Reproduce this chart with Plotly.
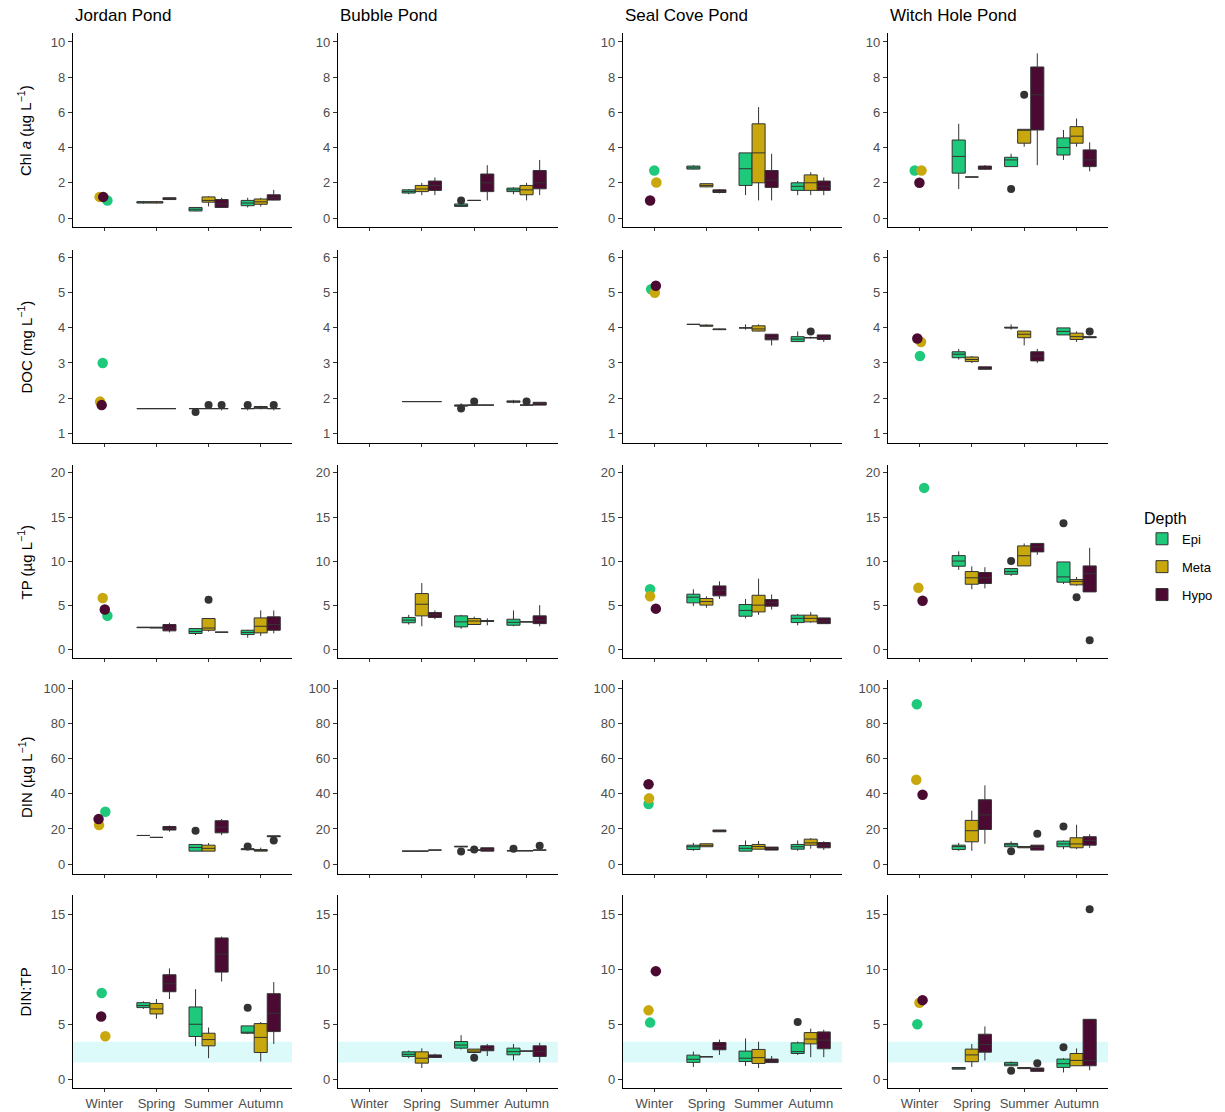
import plotly.graph_objects as go

# ---------------- data ----------------
PONDS = ["Jordan Pond", "Bubble Pond", "Seal Cove Pond", "Witch Hole Pond"]
SEASONS = ["Winter", "Spring", "Summer", "Autumn"]
BOX_SEASONS = ["Spring", "Summer", "Autumn"]
DEPTHS = ["Epi", "Meta", "Hypo"]

# box stats per season (Spring, Summer, Autumn): (lower whisker, q1, median, q3, upper whisker)
CHLA_BOX = {
    "Jordan Pond": {
        "Epi":  [(0.82, 0.85, 0.9, 0.93, 0.97), (0.38, 0.4, 0.5, 0.6, 0.62), (0.6, 0.7, 0.85, 1.0, 1.15)],
        "Meta": [(0.82, 0.85, 0.9, 0.93, 0.97), (0.66, 0.9, 1.0, 1.2, 1.23), (0.65, 0.78, 0.92, 1.08, 1.15)],
        "Hypo": [(1.02, 1.05, 1.1, 1.15, 1.18), (0.58, 0.6, 0.8, 1.05, 1.15), (1.0, 1.02, 1.15, 1.32, 1.6)],
    },
    "Bubble Pond": {
        "Epi":  [(1.35, 1.42, 1.5, 1.6, 1.65), (0.66, 0.66, 0.7, 0.8, 0.8), (1.35, 1.5, 1.6, 1.7, 1.75)],
        "Meta": [(1.3, 1.5, 1.65, 1.85, 2.0), (1.0, 1.0, 1.0, 1.0, 1.0), (1.0, 1.32, 1.6, 1.85, 2.0)],
        "Hypo": [(1.3, 1.57, 1.85, 2.1, 2.3), (1.0, 1.5, 2.0, 2.5, 3.0), (1.3, 1.66, 2.0, 2.7, 3.3)],
    },
    "Seal Cove Pond": {
        "Epi":  [(2.75, 2.78, 2.85, 2.95, 3.0), (1.3, 1.85, 2.8, 3.7, 3.7), (1.3, 1.57, 1.8, 2.0, 2.1)],
        "Meta": [(1.75, 1.77, 1.85, 1.95, 1.98), (1.0, 2.0, 3.7, 5.35, 6.3), (1.3, 1.57, 2.0, 2.45, 2.6)],
        "Hypo": [(1.4, 1.45, 1.5, 1.6, 1.64), (1.0, 1.74, 2.15, 2.7, 3.65), (1.3, 1.57, 1.8, 2.1, 2.3)],
    },
    "Witch Hole Pond": {
        "Epi":  [(1.65, 2.55, 3.5, 4.43, 5.35), (2.92, 2.92, 3.3, 3.45, 3.65), (3.3, 3.58, 4.0, 4.55, 5.0)],
        "Meta": [(2.33, 2.33, 2.33, 2.33, 2.33), (4.05, 4.25, 5.0, 5.04, 5.04), (4.05, 4.25, 4.65, 5.19, 5.65)],
        "Hypo": [(2.75, 2.77, 2.85, 2.95, 3.0), (3.0, 5.0, 7.0, 8.58, 9.35), (2.65, 2.92, 3.3, 3.87, 4.3)],
    },
}
CHLA_WINTER = {"Jordan Pond": [1.0, 1.2, 1.2], "Seal Cove Pond": [2.7, 2.02, 1.0],
               "Witch Hole Pond": [2.7, 2.7, 2.0]}
CHLA_OUT = {"Bubble Pond": [("Summer", "Epi", 1.0)],
            "Witch Hole Pond": [("Summer", "Epi", 1.65), ("Summer", "Meta", 7.0)]}

DOC_BOX = {
    "Jordan Pond": {
        "Epi":  [(1.7, 1.7, 1.7, 1.7, 1.7), (1.7, 1.7, 1.7, 1.7, 1.7), (1.65, 1.7, 1.7, 1.7, 1.7)],
        "Meta": [(1.7, 1.7, 1.7, 1.7, 1.7), (1.7, 1.7, 1.7, 1.7, 1.7), (1.68, 1.7, 1.73, 1.76, 1.78)],
        "Hypo": [(1.7, 1.7, 1.7, 1.7, 1.7), (1.65, 1.7, 1.7, 1.7, 1.7), (1.65, 1.7, 1.7, 1.7, 1.7)],
    },
    "Bubble Pond": {
        "Epi":  [(1.9, 1.9, 1.9, 1.9, 1.9), (1.75, 1.77, 1.8, 1.8, 1.85), (1.85, 1.88, 1.9, 1.92, 1.95)],
        "Meta": [(1.9, 1.9, 1.9, 1.9, 1.9), (1.8, 1.8, 1.8, 1.8, 1.8), (1.8, 1.8, 1.8, 1.8, 1.8)],
        "Hypo": [(1.9, 1.9, 1.9, 1.9, 1.9), (1.8, 1.8, 1.8, 1.8, 1.8), (1.8, 1.8, 1.85, 1.88, 1.88)],
    },
    "Seal Cove Pond": {
        "Epi":  [(4.1, 4.1, 4.1, 4.1, 4.1), (3.95, 4.0, 4.0, 4.0, 4.1), (3.6, 3.61, 3.68, 3.75, 3.9)],
        "Meta": [(4.05, 4.05, 4.06, 4.08, 4.1), (3.9, 3.91, 3.97, 4.06, 4.1), (3.7, 3.72, 3.72, 3.72, 3.75)],
        "Hypo": [(3.95, 3.95, 3.96, 3.97, 3.98), (3.5, 3.66, 3.72, 3.82, 3.82), (3.6, 3.67, 3.72, 3.8, 3.8)],
    },
    "Witch Hole Pond": {
        "Epi":  [(3.1, 3.15, 3.25, 3.32, 3.4), (3.95, 4.0, 4.0, 4.02, 4.1), (3.8, 3.8, 3.9, 4.0, 4.0)],
        "Meta": [(3.0, 3.04, 3.1, 3.17, 3.2), (3.5, 3.72, 3.82, 3.91, 3.91), (3.6, 3.67, 3.75, 3.85, 3.9)],
        "Hypo": [(2.82, 2.82, 2.85, 2.89, 2.89), (3.0, 3.06, 3.2, 3.32, 3.4), (3.72, 3.72, 3.73, 3.75, 3.75)],
    },
}
DOC_WINTER = {"Jordan Pond": [3.0, 1.9, 1.8], "Seal Cove Pond": [5.1, 5.0, 5.2],
              "Witch Hole Pond": [3.2, 3.6, 3.7]}
DOC_OUT = {"Jordan Pond": [("Summer", "Epi", 1.6), ("Summer", "Meta", 1.8), ("Summer", "Hypo", 1.8),
                           ("Autumn", "Epi", 1.8), ("Autumn", "Hypo", 1.8)],
           "Bubble Pond": [("Summer", "Epi", 1.7), ("Summer", "Meta", 1.9), ("Autumn", "Meta", 1.9)],
           "Seal Cove Pond": [("Autumn", "Meta", 3.9)],
           "Witch Hole Pond": [("Autumn", "Hypo", 3.9)]}

TP_BOX = {
    "Jordan Pond": {
        "Epi":  [(2.45, 2.45, 2.45, 2.5, 2.5), (1.6, 1.78, 2.0, 2.34, 2.4), (1.3, 1.66, 1.9, 2.15, 2.2)],
        "Meta": [(2.4, 2.4, 2.45, 2.5, 2.5), (2.0, 2.15, 2.4, 3.48, 3.5), (1.5, 1.85, 2.6, 3.55, 4.4)],
        "Hypo": [(1.9, 2.08, 2.4, 2.8, 3.0), (1.93, 1.93, 1.93, 1.93, 1.93), (1.8, 2.15, 2.8, 3.67, 4.4)],
    },
    "Bubble Pond": {
        "Epi":  [(2.8, 3.0, 3.3, 3.6, 3.9), (2.3, 2.53, 3.1, 3.78, 3.9), (2.6, 2.72, 3.05, 3.4, 4.4)],
        "Meta": [(2.6, 3.78, 5.1, 6.31, 7.5), (2.8, 2.8, 3.2, 3.48, 3.7), (3.1, 3.1, 3.1, 3.1, 3.1)],
        "Hypo": [(3.4, 3.6, 3.9, 4.16, 4.4), (2.7, 3.15, 3.2, 3.25, 3.5), (2.6, 2.9, 3.3, 3.78, 5.0)],
    },
    "Seal Cove Pond": {
        "Epi":  [(4.9, 5.26, 5.9, 6.24, 6.8), (3.5, 3.74, 4.4, 5.07, 5.7), (2.7, 3.02, 3.5, 3.86, 4.0)],
        "Meta": [(4.7, 5.0, 5.4, 5.75, 6.0), (3.9, 4.23, 5.0, 6.12, 8.0), (3.0, 3.1, 3.5, 3.86, 4.2)],
        "Hypo": [(5.7, 6.05, 6.7, 7.18, 7.7), (4.5, 4.88, 5.3, 5.63, 6.2), (2.9, 2.9, 3.2, 3.55, 3.55)],
    },
    "Witch Hole Pond": {
        "Epi":  [(9.0, 9.41, 10.0, 10.62, 11.1), (8.3, 8.5, 8.8, 9.15, 9.2), (7.4, 7.6, 8.2, 9.9, 9.9)],
        "Meta": [(6.8, 7.37, 8.1, 8.81, 9.4), (9.45, 9.45, 10.6, 11.72, 12.0), (7.2, 7.3, 7.7, 7.9, 8.2)],
        "Hypo": [(6.9, 7.45, 8.1, 8.7, 9.3), (10.7, 11.04, 11.6, 12.0, 12.0), (6.5, 6.5, 8.6, 9.45, 11.5)],
    },
}
TP_WINTER = {"Jordan Pond": [3.8, 5.8, 4.5], "Seal Cove Pond": [6.8, 6.0, 4.6],
             "Witch Hole Pond": [18.3, 6.96, 5.5]}
TP_OUT = {"Jordan Pond": [("Summer", "Meta", 5.6)],
          "Witch Hole Pond": [("Summer", "Epi", 10.0), ("Autumn", "Epi", 14.3),
                              ("Autumn", "Meta", 5.9), ("Autumn", "Hypo", 1.0)]}

DIN_BOX = {
    "Jordan Pond": {
        "Epi":  [(16.3, 16.3, 16.3, 16.3, 16.3), (7.4, 7.4, 9.5, 11.2, 11.2), (8.0, 8.2, 8.5, 8.8, 9.0)],
        "Meta": [(15.2, 15.2, 15.2, 15.2, 15.2), (7.4, 7.4, 9.0, 10.8, 12.0), (7.4, 7.4, 7.8, 8.3, 9.4)],
        "Hypo": [(18.5, 19.4, 20.3, 21.4, 22.0), (16.5, 17.8, 21.0, 24.7, 25.6), (15.0, 15.6, 15.8, 16.1, 16.1)],
    },
    "Bubble Pond": {
        "Epi":  [(7.4, 7.4, 7.4, 7.4, 7.4), (9.9, 9.9, 9.9, 10.2, 10.2), (7.6, 7.6, 7.6, 7.6, 7.6)],
        "Meta": [(7.4, 7.4, 7.4, 7.4, 7.4), (8.0, 8.0, 8.0, 8.0, 8.0), (7.6, 7.6, 7.6, 7.6, 7.6)],
        "Hypo": [(8.0, 8.0, 8.0, 8.0, 8.0), (7.4, 7.4, 8.2, 9.3, 9.3), (8.0, 8.0, 8.0, 8.0, 8.0)],
    },
    "Seal Cove Pond": {
        "Epi":  [(7.6, 8.3, 9.9, 10.8, 12.1), (7.4, 7.4, 9.0, 10.6, 13.5), (7.6, 8.5, 9.9, 11.2, 13.5)],
        "Meta": [(9.9, 9.9, 10.7, 11.6, 11.6), (8.5, 8.5, 10.0, 11.2, 13.2), (8.8, 10.8, 12.1, 14.2, 14.8)],
        "Hypo": [(18.4, 18.4, 19.0, 19.4, 19.4), (8.0, 8.0, 8.9, 9.7, 9.7), (8.1, 9.3, 10.8, 12.3, 13.0)],
    },
    "Witch Hole Pond": {
        "Epi":  [(7.6, 8.3, 10.0, 10.8, 12.1), (9.9, 9.9, 11.0, 11.8, 13.0), (8.5, 9.9, 11.5, 13.1, 13.5)],
        "Meta": [(7.6, 12.7, 19.0, 24.9, 30.4), (9.3, 9.3, 9.7, 10.0, 10.0), (8.5, 9.3, 11.5, 15.0, 22.4)],
        "Hypo": [(11.6, 19.7, 28.0, 36.6, 44.8), (8.0, 8.0, 9.5, 10.8, 10.8), (9.3, 10.8, 13.5, 15.6, 17.0)],
    },
}
DIN_WINTER = {"Jordan Pond": [29.8, 22.2, 25.6], "Seal Cove Pond": [34.2, 37.4, 45.4],
              "Witch Hole Pond": [90.9, 48.0, 39.5]}
DIN_OUT = {"Jordan Pond": [("Summer", "Epi", 19.0), ("Autumn", "Epi", 10.0), ("Autumn", "Hypo", 13.5)],
           "Bubble Pond": [("Summer", "Epi", 7.2), ("Summer", "Meta", 8.3),
                           ("Autumn", "Epi", 8.7), ("Autumn", "Hypo", 10.4)],
           "Witch Hole Pond": [("Summer", "Epi", 7.4), ("Summer", "Hypo", 17.3), ("Autumn", "Epi", 21.4)]}

DINTP_BOX = {
    "Jordan Pond": {
        "Epi":  [(6.4, 6.52, 6.7, 6.97, 7.1), (3.0, 3.88, 5.0, 6.58, 8.2), (4.1, 4.18, 4.24, 4.85, 4.85)],
        "Meta": [(5.5, 5.94, 6.4, 6.9, 7.3), (1.9, 3.03, 3.6, 4.18, 4.7), (1.6, 2.42, 3.8, 5.06, 5.2)],
        "Hypo": [(7.3, 7.97, 8.7, 9.52, 10.1), (8.9, 9.76, 11.4, 12.88, 13.0), (3.2, 4.33, 6.0, 7.79, 8.85)],
    },
    "Bubble Pond": {
        "Epi":  [(1.9, 2.06, 2.25, 2.48, 2.6), (2.7, 2.82, 3.1, 3.42, 4.0), (1.7, 2.21, 2.5, 2.82, 3.2)],
        "Meta": [(1.0, 1.45, 1.9, 2.48, 2.8), (2.42, 2.42, 2.55, 2.73, 2.73), (2.55, 2.55, 2.55, 2.55, 2.55)],
        "Hypo": [(1.97, 1.97, 2.1, 2.2, 2.3), (2.1, 2.58, 2.75, 3.03, 3.2), (1.5, 2.06, 2.5, 3.03, 3.3)],
    },
    "Seal Cove Pond": {
        "Epi":  [(1.1, 1.52, 1.8, 2.18, 2.5), (1.2, 1.6, 1.9, 2.55, 3.7), (2.2, 2.33, 2.5, 3.3, 3.42)],
        "Meta": [(2.03, 2.03, 2.03, 2.03, 2.03), (1.0, 1.42, 1.95, 2.7, 3.4), (2.0, 3.21, 3.65, 4.24, 4.6)],
        "Hypo": [(2.2, 2.67, 2.95, 3.33, 3.6), (1.5, 1.5, 1.65, 1.82, 2.1), (2.0, 2.76, 3.55, 4.3, 4.5)],
    },
    "Witch Hole Pond": {
        "Epi":  [(0.9, 0.9, 1.0, 1.05, 1.05), (1.2, 1.21, 1.35, 1.52, 1.6), (0.6, 1.06, 1.4, 1.82, 1.9)],
        "Meta": [(1.1, 1.58, 2.2, 2.73, 3.2), (0.95, 0.95, 1.0, 1.05, 1.05), (1.2, 1.21, 1.7, 2.33, 2.8)],
        "Hypo": [(1.7, 2.45, 3.15, 4.09, 4.8), (0.7, 0.7, 0.85, 1.0, 1.0), (0.8, 1.21, 1.7, 5.45, 5.45)],
    },
}
DINTP_WINTER = {"Jordan Pond": [7.85, 3.9, 5.7], "Seal Cove Pond": [5.15, 6.27, 9.85],
                "Witch Hole Pond": [5.0, 6.97, 7.2]}
DINTP_OUT = {"Jordan Pond": [("Autumn", "Epi", 6.5)],
             "Bubble Pond": [("Summer", "Meta", 1.95)],
             "Seal Cove Pond": [("Autumn", "Epi", 5.2)],
             "Witch Hole Pond": [("Summer", "Epi", 0.75), ("Summer", "Hypo", 1.45),
                                 ("Autumn", "Epi", 2.9), ("Autumn", "Hypo", 15.5)]}
DINTP_BAND = [1.5, 3.4]

VAR_LABELS = ["Chl <i>a</i> (µg L<sup>−1</sup>)", "DOC (mg L<sup>−1</sup>)", "TP (µg L<sup>−1</sup>)",
              "DIN (µg L<sup>−1</sup>)", "DIN:TP"]
Y_TICKS = [[0, 2, 4, 6, 8, 10], [1, 2, 3, 4, 5, 6], [0, 5, 10, 15, 20], [0, 20, 40, 60, 80, 100], [0, 5, 10, 15]]

# ---------------- style / layout ----------------
W, H = 1225, 1112
COLORS = {"Epi": "#1fc97b", "Meta": "#c9a80d", "Hypo": "#4b0a31"}
DODGE = {"Epi": -0.25, "Meta": 0.0, "Hypo": 0.25}
BOX_WIDTH = 0.25
Y_RANGES = [[-0.51, 10.51], [0.72, 6.22], [-1.0, 20.9], [-5.6, 104.7], [-0.82, 16.8]]
COL_PX = [(73, 292), (338, 558), (623, 842), (888, 1108)]
ROW_PX = [(33, 227), (250, 443), (465, 658), (680, 874), (895, 1088)]
# small horizontal jitter of winter points (category units), per row / pond, order Epi, Meta, Hypo
WINTER_JITTER = [
    {"Jordan Pond": [0.06, -0.09, -0.02], "Seal Cove Pond": [0.0, 0.04, -0.08], "Witch Hole Pond": [-0.09, 0.04, 0.0]},
    {"Jordan Pond": [-0.03, -0.08, -0.05], "Seal Cove Pond": [-0.06, 0.01, 0.03], "Witch Hole Pond": [0.01, 0.03, -0.04]},
    {"Jordan Pond": [0.06, -0.03, 0.01], "Seal Cove Pond": [-0.08, -0.08, 0.03], "Witch Hole Pond": [0.09, -0.02, 0.06]},
    {"Jordan Pond": [0.02, -0.1, -0.11], "Seal Cove Pond": [-0.11, -0.1, -0.11], "Witch Hole Pond": [-0.05, -0.06, 0.06]},
    {"Jordan Pond": [-0.05, 0.02, -0.06], "Seal Cove Pond": [-0.08, -0.11, 0.03], "Witch Hole Pond": [-0.04, 0.0, 0.06]},
]
FONT = "Liberation Sans, Arial, sans-serif"
TICK_COLOR = "#4d4d4d"

ROWS = [
    (CHLA_BOX, CHLA_WINTER, CHLA_OUT),
    (DOC_BOX, DOC_WINTER, DOC_OUT),
    (TP_BOX, TP_WINTER, TP_OUT),
    (DIN_BOX, DIN_WINTER, DIN_OUT),
    (DINTP_BOX, DINTP_WINTER, DINTP_OUT),
]

fig = go.Figure()
layout = dict(
    width=W, height=H, autosize=False,
    margin=dict(l=0, r=0, t=0, b=0),
    paper_bgcolor="white", plot_bgcolor="white",
    font=dict(family=FONT, color="black"),
    boxmode="overlay", showlegend=True, hovermode=False,
    legend=dict(
        title=dict(text="Depth", font=dict(size=16, color="black")),
        x=1142 / W, y=1 - 503 / H, xanchor="left", yanchor="top",
        font=dict(size=13, color="black"), tracegroupgap=8,
        bgcolor="rgba(0,0,0,0)", itemwidth=30,
    ),
)
annotations = []
shapes = []

season_idx = {s: i for i, s in enumerate(SEASONS)}

for r, (box_data, winter_data, out_data) in enumerate(ROWS):
    for c, pond in enumerate(PONDS):
        k = r * 4 + c + 1
        sfx = "" if k == 1 else str(k)
        xref, yref = "x" + sfx, "y" + sfx
        x0, x1 = COL_PX[c]
        y0, y1 = ROW_PX[r]
        layout["xaxis" + sfx] = dict(
            domain=[x0 / W, x1 / W], anchor=yref, range=[-0.6, 3.6],
            tickmode="array", tickvals=list(range(len(SEASONS))), ticktext=SEASONS,
            showticklabels=(r == 4), showline=True, linecolor="black", linewidth=1.2,
            ticks="outside", ticklen=3, tickcolor="#333333", tickwidth=1,
            showgrid=False, zeroline=False,
            tickfont=dict(size=13, color=TICK_COLOR, family=FONT),
        )
        layout["yaxis" + sfx] = dict(
            domain=[1 - y1 / H, 1 - y0 / H], anchor=xref, range=Y_RANGES[r],
            tickmode="array", tickvals=Y_TICKS[r],
            showline=True, linecolor="black", linewidth=1.2,
            ticks="outside", ticklen=4, tickcolor="#333333", tickwidth=1,
            showgrid=False, zeroline=False,
            tickfont=dict(size=13, color=TICK_COLOR, family=FONT),
        )
        if r == 4:
            shapes.append(dict(type="rect", xref=xref + " domain", yref=yref,
                               x0=0, x1=1, y0=DINTP_BAND[0], y1=DINTP_BAND[1],
                               fillcolor="#dcfafa", line=dict(width=0), layer="below"))
        # boxes
        for d in DEPTHS:
            stats = box_data[pond][d]
            xs = [season_idx[s] + DODGE[d] for s in BOX_SEASONS]
            fig.add_trace(go.Box(
                x=xs,
                lowerfence=[s[0] for s in stats], q1=[s[1] for s in stats],
                median=[s[2] for s in stats], q3=[s[3] for s in stats],
                upperfence=[s[4] for s in stats],
                width=BOX_WIDTH, whiskerwidth=0, boxpoints=False,
                fillcolor=COLORS[d], line=dict(color="#333333", width=1),
                name=d, legendgroup=d, showlegend=(k == 1),
                xaxis=xref, yaxis=yref,
            ))
        # outliers
        outs = out_data.get(pond, [])
        if outs:
            fig.add_trace(go.Scatter(
                x=[season_idx[s] + DODGE[d] for s, d, v in outs],
                y=[v for s, d, v in outs],
                mode="markers", marker=dict(color="#333333", size=8),
                showlegend=False, xaxis=xref, yaxis=yref,
            ))
        # winter single values
        if pond in winter_data:
            vals = winter_data[pond]
            jit = WINTER_JITTER[r][pond]
            for i, d in enumerate(DEPTHS):
                fig.add_trace(go.Scatter(
                    x=[season_idx["Winter"] + jit[i]], y=[vals[i]],
                    mode="markers", marker=dict(color=COLORS[d], size=10.5),
                    showlegend=False, xaxis=xref, yaxis=yref,
                ))
    # row y-axis title
    annotations.append(dict(
        text=VAR_LABELS[r], textangle=-90, xref="paper", yref="paper",
        x=25 / W, y=1 - (ROW_PX[r][0] + ROW_PX[r][1]) / 2 / H,
        xanchor="center", yanchor="middle", showarrow=False,
        font=dict(size=15, color="black", family=FONT),
    ))

for c, pond in enumerate(PONDS):
    annotations.append(dict(
        text=pond, xref="paper", yref="paper",
        x=COL_PX[c][0] / W, y=1 - 15 / H, xanchor="left", yanchor="middle",
        showarrow=False, font=dict(size=17, color="black", family=FONT),
    ))

layout["annotations"] = annotations
layout["shapes"] = shapes
fig.update_layout(**layout)
fig.write_html("out.html")
